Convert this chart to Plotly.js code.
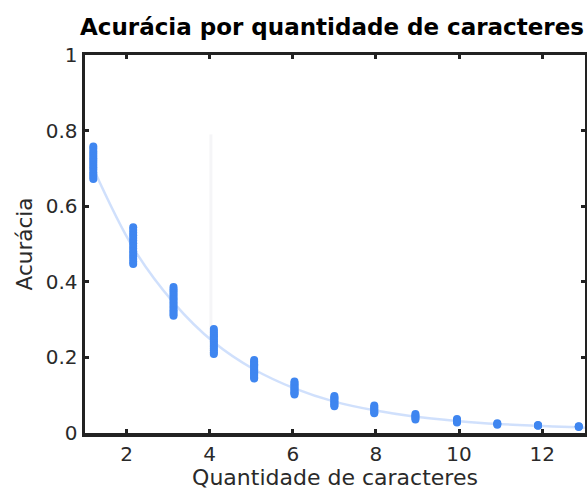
<!DOCTYPE html>
<html>
<head>
<meta charset="utf-8">
<script src="https://cdn.plot.ly/plotly-3.0.1.min.js"></script>
<style>html,body{margin:0;padding:0;background:#fff;}#chart{width:587px;height:492px;}</style>
</head>
<body>
<div id="chart"></div>
<script>
// Cluster positions (x)
const clusterX = [1.2, 2.16, 3.13, 4.1, 5.07, 6.04, 7.0, 7.96, 8.95, 9.95, 10.92, 11.9, 12.88];
// Accuracy samples per cluster
const clusterY = [
  [0.758, 0.752, 0.745, 0.739, 0.733, 0.727, 0.721, 0.715, 0.709, 0.703, 0.697, 0.690, 0.684, 0.678, 0.672],
  [0.544, 0.537, 0.530, 0.523, 0.516, 0.509, 0.502, 0.495, 0.488, 0.481, 0.474, 0.467, 0.460, 0.453, 0.447],
  [0.386, 0.380, 0.375, 0.369, 0.364, 0.358, 0.353, 0.347, 0.342, 0.336, 0.331, 0.325, 0.320, 0.315, 0.310],
  [0.275, 0.270, 0.265, 0.260, 0.256, 0.251, 0.247, 0.242, 0.238, 0.233, 0.228, 0.223, 0.218, 0.213, 0.209],
  [0.193, 0.189, 0.186, 0.182, 0.179, 0.175, 0.172, 0.168, 0.165, 0.161, 0.158, 0.154, 0.151, 0.147, 0.144],
  [0.136, 0.132, 0.129, 0.125, 0.122, 0.118, 0.115, 0.111, 0.108, 0.105, 0.102],
  [0.098, 0.094, 0.091, 0.087, 0.084, 0.080, 0.077, 0.074, 0.071],
  [0.073, 0.069, 0.066, 0.062, 0.059, 0.055, 0.052],
  [0.050, 0.046, 0.043, 0.040, 0.036],
  [0.037, 0.034, 0.032, 0.030, 0.028],
  [0.026, 0.024, 0.022],
  [0.021, 0.020, 0.019],
  [0.018, 0.017, 0.016]
];
// Faint fitted curve
const curveX = [1.2, 2.16, 3.13, 4.1, 5.07, 6.04, 7.0, 7.96, 8.95, 9.95, 10.92, 11.9, 12.88, 13.03];
const curveY = [0.70, 0.49, 0.345, 0.24, 0.168, 0.118, 0.083, 0.06, 0.043, 0.032, 0.024, 0.019, 0.015, 0.014];
// Faint vertical guide
const guideX = [4.03, 4.03];
const guideY = [0.79, 0.2];

const xTicks = [2, 4, 6, 8, 10, 12];
const yTicks = [0, 0.2, 0.4, 0.6, 0.8, 1];
const yTickText = ['0', '0.2', '0.4', '0.6', '0.8', '1'];

const px = [], py = [];
clusterX.forEach((x, i) => clusterY[i].forEach(y => { px.push(x); py.push(y); }));

const traces = [
  {x: guideX, y: guideY, mode: 'lines', line: {color: '#f5f5f7', width: 3}, hoverinfo: 'skip'},
  {x: curveX, y: curveY, mode: 'lines', line: {color: 'rgba(110,160,245,0.32)', width: 2.5, shape: 'spline'}, hoverinfo: 'skip'},
  {x: px, y: py, mode: 'markers', marker: {color: '#3f86f0', size: 8, line: {width: 0}}}
];

const axisCommon = {
  showgrid: false, zeroline: false, showline: true, mirror: 'ticks',
  linecolor: '#222', linewidth: 3.5, ticks: 'inside', ticklen: 4, tickwidth: 3, tickcolor: '#222',
  tickfont: {family: 'DejaVu Sans', size: 20, color: '#2a2a2a'}
};

const layout = {
  width: 587, height: 492,
  margin: {l: 85, r: 2, t: 55, b: 59},
  paper_bgcolor: '#fff', plot_bgcolor: '#fff',
  showlegend: false,
  title: {text: 'Acurácia por quantidade de caracteres', xref: 'paper', x: 0.494, xanchor: 'center',
          yref: 'container', y: 0.945, yanchor: 'middle',
          font: {family: 'DejaVu Sans', size: 23, color: '#000', weight: 'bold'}},
  xaxis: Object.assign({}, axisCommon, {range: [1, 13.03], tickvals: xTicks,
    title: {text: 'Quantidade de caracteres', font: {family: 'DejaVu Sans', size: 22, color: '#2a2a2a'}, standoff: 5}}),
  yaxis: Object.assign({}, axisCommon, {range: [0, 1], tickvals: yTicks, ticktext: yTickText,
    title: {text: 'Acurácia', font: {family: 'DejaVu Sans', size: 21.5, color: '#2a2a2a'}, standoff: 8}})
};

Plotly.newPlot('chart', traces, layout, {displayModeBar: false, staticPlot: true});
</script>
</body>
</html>
